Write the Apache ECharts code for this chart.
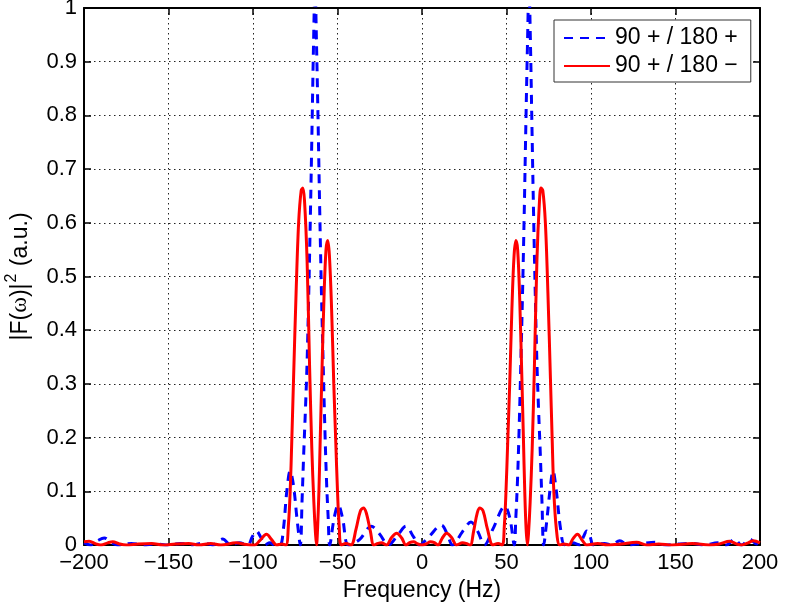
<!DOCTYPE html>
<html>
<head>
<meta charset="utf-8">
<script src="https://cdn.jsdelivr.net/npm/echarts@6/dist/echarts.min.js"></script>
<style>html,body{margin:0;padding:0;background:#fff;}#c{width:785px;height:610px;}</style>
</head>
<body>
<div id="c"></div>
<script>
const xTicks = [-200, -150, -100, -50, 0, 50, 100, 150, 200];
const yTicks = [0, 0.1, 0.2, 0.3, 0.4, 0.5, 0.6, 0.7, 0.8, 0.9, 1];
const seriesNames = ['90 + / 180 +', '90 + / 180 \u2212'];

const blueFreq = [-200,-196,-192,-188,-184,-180,-172,-165,-158,-150,-143,-136,-129,-124,-118,-113,-108,-103,-100.5,-98,-95.5,-93,-90,-87,-84,-82,-80,-78,-76,-74,-72,-71,-70,-69,-68,-67,-66,-65,-64.2,-63.3,-62.4,-61.5,-60.5,-59.5,-58.5,-57.5,-56.5,-55.5,-54.6,-52,-49.5,-47,-43.5,-37,-30,-25,-20,-14,-9.5,-5,-1.5,4,11.5,15,18,24,29,33,37,42,49,52,54.6,55.5,56.5,57.5,58.5,59.5,60.5,61.5,62.4,63.3,64.2,65,66,67,68,69,70,71,72,74,76,77.5,79.5,82,84.5,89,93.5,95.5,97.5,99.5,101.5,108,112,117,122,130,138,144,152,160,167,175,180,185,189,194,198,200];
const bluePower = [0.004,0,0.008,0.013,0.005,0,0.003,0,0.002,0,0.003,0,0.004,0,0.011,0,0.004,0,0.015,0.026,0.015,0,0.004,0,0,0.03,0.1,0.138,0.11,0.05,0,0.08,0.17,0.25,0.34,0.47,0.62,0.79,0.93,1.04,0.93,0.79,0.62,0.47,0.34,0.22,0.12,0.05,0,0.05,0.075,0.05,0,0.01,0.035,0.02,0,0.02,0.035,0.015,0,0.015,0.037,0.02,0,0.025,0.043,0.025,0,0.03,0.072,0.05,0,0.05,0.12,0.22,0.34,0.47,0.62,0.79,0.93,1.04,0.93,0.79,0.62,0.47,0.34,0.25,0.17,0.08,0,0.05,0.11,0.138,0.1,0.03,0,0.004,0,0.015,0.026,0.015,0,0.003,0,0.008,0,0.003,0.005,0,0.002,0.003,0,0.004,0,0.011,0,0.011,0.002,0.004];

const redFreq = [-200,-197,-193,-190,-186,-183,-179,-175,-168,-160,-153,-146,-138,-132,-125,-119,-110,-104,-99,-96,-92,-89,-86,-83,-80.5,-79,-78,-77,-76,-74.5,-73,-71.5,-70.5,-69.5,-68,-66.5,-65.2,-64,-63,-62.4,-61.8,-61,-60.2,-59.3,-58,-56.8,-55.8,-54.8,-53.5,-52.2,-51,-50,-49,-47.8,-45,-42,-39,-36.5,-34.7,-33,-30.5,-28.5,-26,-24,-21,-18,-15,-12,-9.5,-7,-5,-2.5,0,2.5,5,7,9.5,12,14.6,17.5,20.5,24,26,28.5,30.5,32.7,34.3,36.2,38.7,42,45,47.5,48.7,49.7,50.7,51.9,53.2,54.5,55.6,56.6,57.8,59.1,60,60.8,61.6,62.4,63,64,65.2,66.5,68,69.5,70.4,71.5,73,74.5,76,77,78,79.5,81.5,84,87,89,92,95,97.5,104,110,118,127,133,140,148,160,170,176,182,186,189,193,196,200];
const redPower = [0.006,0.007,0.002,0,0.004,0.006,0.002,0,0.002,0.003,0,0.002,0.003,0,0.003,0,0.004,0.001,0,0.008,0.02,0.01,0,0.002,0,0.04,0.1,0.2,0.31,0.47,0.6,0.66,0.665,0.64,0.53,0.33,0.18,0.08,0.02,0,0.03,0.1,0.2,0.31,0.46,0.55,0.567,0.54,0.44,0.3,0.19,0.1,0.035,0,0.003,0,0.03,0.063,0.069,0.06,0.025,0,0.003,0.004,0,0.014,0.022,0.013,0,0.005,0.006,0.002,0,0.002,0.006,0.005,0,0.013,0.022,0.014,0,0.004,0.003,0,0.025,0.06,0.069,0.063,0.03,0,0.003,0,0.035,0.1,0.19,0.3,0.44,0.54,0.567,0.55,0.46,0.31,0.2,0.1,0.03,0,0.02,0.08,0.18,0.33,0.53,0.64,0.665,0.66,0.6,0.47,0.31,0.2,0.1,0.03,0,0.002,0,0.01,0.02,0.008,0,0.003,0,0.002,0.005,0,0.002,0,0.003,0,0.002,0.007,0.002,0,0.004,0.008,0.004];

const pair = (xs, ys) => xs.map((x, i) => [x, ys[i]]);
const FONT = 'Liberation Sans';
const fmtX = v => v < 0 ? '\u2212' + Math.abs(v) : String(v);

const chart = echarts.init(document.getElementById('c'), null, {renderer: 'canvas'});
const tickStyle = {show: true, inside: true, length: 7, lineStyle: {color: '#000', width: 1.5}};
const lineAx = {show: true, onZero: false, lineStyle: {color: '#000', width: 2}};
const gridLine = {show: true, lineStyle: {color: '#222', width: 1, type: [1.5, 3.5]}};

chart.setOption({
  animation: false,
  backgroundColor: '#fff',
  grid: {left: 84, right: 25, top: 8, bottom: 65, containLabel: false, outerBoundsMode: 'none'},
  legend: {
    data: seriesNames,
    orient: 'vertical',
    left: 554, top: 20,
    backgroundColor: '#fff',
    borderColor: '#333', borderWidth: 1,
    padding: [5, 13, 3, 9],
    itemGap: 2,
    itemWidth: 46, itemHeight: 4,
    itemStyle: {opacity: 0},
    textStyle: {fontFamily: FONT, fontSize: 23, color: '#000', lineHeight: 26}
  },
  xAxis: [{
    type: 'value', min: -200, max: 200, interval: 50,
    name: 'Frequency (Hz)', nameLocation: 'middle', nameGap: 29,
    nameTextStyle: {fontFamily: FONT, fontSize: 23, color: '#000'},
    axisLine: lineAx, axisTick: tickStyle,
    axisLabel: {formatter: fmtX, fontFamily: FONT, fontSize: 22, color: '#000', margin: 7},
    splitLine: gridLine
  }, {
    type: 'value', min: -200, max: 200, interval: 50, position: 'top',
    axisLine: lineAx, axisTick: tickStyle, axisLabel: {show: false}, splitLine: {show: false}
  }],
  yAxis: [{
    type: 'value', min: 0, max: 1, interval: 0.1,
    name: '{a|\u007cF(}{w|\u03c9}{a|)\u007c}{s|2}{a| (a.u.)}', nameLocation: 'middle', nameGap: 52,
    nameTextStyle: {
      fontFamily: FONT, fontSize: 23, color: '#000',
      rich: {
        a: {fontFamily: FONT, fontSize: 23, color: '#000', lineHeight: 28, verticalAlign: 'bottom'},
        w: {fontFamily: 'Liberation Serif', fontSize: 24, color: '#000', lineHeight: 28, verticalAlign: 'bottom'},
        s: {fontFamily: FONT, fontSize: 16, color: '#000', lineHeight: 28, verticalAlign: 'top', padding: [0, 1, 0, 1]}
      }
    },
    axisLine: lineAx, axisTick: tickStyle,
    axisLabel: {formatter: v => String(Math.round(v * 10) / 10), fontFamily: FONT, fontSize: 22, color: '#000', margin: 7},
    splitLine: gridLine
  }, {
    type: 'value', min: 0, max: 1, interval: 0.1, position: 'right',
    axisLine: lineAx, axisTick: tickStyle, axisLabel: {show: false}, splitLine: {show: false}
  }],
  series: [{
    name: seriesNames[0], type: 'line', data: pair(blueFreq, bluePower),
    showSymbol: false, symbol: 'none', smooth: 0.35,
    lineStyle: {color: '#0000ff', width: 3, type: [9, 7]}, itemStyle: {color: '#0000ff'}, z: 2
  }, {
    name: seriesNames[1], type: 'line', data: pair(redFreq, redPower),
    showSymbol: false, symbol: 'none', smooth: 0.35,
    lineStyle: {color: '#ff0000', width: 3}, itemStyle: {color: '#ff0000'}, z: 3
  }]
});
</script>
</body>
</html>
